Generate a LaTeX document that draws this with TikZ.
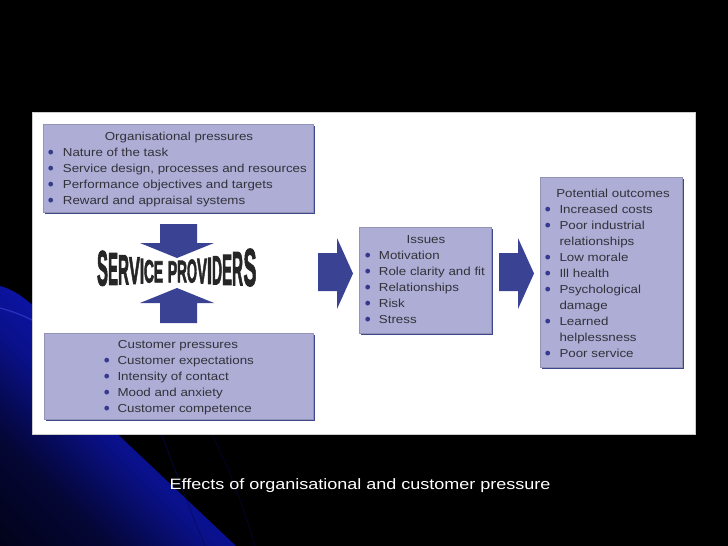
\documentclass[tikz,border=0pt]{standalone}
\usepackage{fontspec}
\setmainfont{Liberation Sans}
\newfontfamily\spfont{Liberation Sans}[BoldFeatures={FakeBold=2.5}]
\usepackage{graphicx}
\usetikzlibrary{shadows}
\definecolor{boxc}{RGB}{173,173,214}
\definecolor{shc}{RGB}{62,70,140}
\definecolor{arc}{RGB}{58,66,148}
\definecolor{txtc}{RGB}{50,50,58}
\definecolor{bulc}{RGB}{55,58,140}
\definecolor{wblue}{RGB}{15,25,210}
\definecolor{spc}{RGB}{38,38,38}
\pgfdeclareverticalshading{swoosh}{100bp}{color(0bp)=(black); color(30bp)=(black!75!wblue); color(45bp)=(wblue!65!black); color(62bp)=(wblue!90!black); color(100bp)=(wblue)}
\newcommand{\sx}[1]{\scalebox{1.15}[1]{#1}}
\newcommand{\bl}[5]{% name, bullet x, text x, baseline y, text
  \fill[bulc] (#2,#4-3.9) circle (2.4);
  \node[txt, anchor=base west] (#1) at (#3,#4) {\sx{#5}};}
\tikzset{
  txt/.style={inner sep=0pt, text=txtc, font=\fontsize{11.6}{13}\selectfont},
  box/.style={fill=boxc, draw=boxc!85!black, line width=0.3pt, inner sep=0pt, anchor=north west,
    drop shadow={shadow xshift=2pt, shadow yshift=-2pt, fill=shc, opacity=1}},
  blockarrow/.style={fill=arc, draw=none},
  spl/.style={inner sep=0pt, anchor=south, text=spc},
}
\begin{document}
\begin{tikzpicture}[x=1pt,y=-1pt]
\useasboundingbox (0,0) rectangle (728,546);
\fill[black] (0,0) rectangle (728,546);
% background swoosh
\shade[shading=swoosh, shading angle=-45]
  (0,286) .. controls (40,296) and (80,360) .. (108,425) -- (236,546) -- (0,546) -- cycle;
\draw[black!60!wblue, line width=0.8pt, opacity=0.7] (160,430) .. controls (175,470) and (190,510) .. (205,546);
\draw[black!60!wblue, line width=0.6pt, opacity=0.6] (210,430) .. controls (230,470) and (245,510) .. (255,546);
\draw[wblue!80!white, line width=1.2pt, opacity=0.6] (0,308) .. controls (12,311) and (24,316) .. (32,320);
% white panel
\node[fill=white, draw=gray!40, line width=0.4pt, inner sep=0pt, anchor=north west,
  minimum width=663, minimum height=322] (panel) at (32,112) {};
% boxes
\node[box, minimum width=270, minimum height=88] (org) at (43,124) {};
\node[box, minimum width=269, minimum height=86] (cus) at (44,333) {};
\node[box, minimum width=132, minimum height=106] (iss) at (359,227) {};
\node[box, minimum width=142, minimum height=190] (out) at (540,177) {};
% organisational pressures
\node[txt, anchor=base] (orgt) at (179,140) {\sx{Organisational pressures}};
\bl{o1}{50.7}{62.7}{156}{Nature of the task}
\bl{o2}{50.7}{62.7}{172}{Service design, processes and resources}
\bl{o3}{50.7}{62.7}{188}{Performance objectives and targets}
\bl{o4}{50.7}{62.7}{204}{Reward and appraisal systems}
% customer pressures
\node[txt, anchor=base] (cust) at (178,348) {\sx{Customer pressures}};
\bl{c1}{106.7}{117.3}{364}{Customer expectations}
\bl{c2}{106.7}{117.3}{380}{Intensity of contact}
\bl{c3}{106.7}{117.3}{396}{Mood and anxiety}
\bl{c4}{106.7}{117.3}{412}{Customer competence}
% issues
\node[txt, anchor=base] (isst) at (426,243) {\sx{Issues}};
\bl{i1}{367.7}{378.7}{259}{Motivation}
\bl{i2}{367.7}{378.7}{275}{Role clarity and fit}
\bl{i3}{367.7}{378.7}{291}{Relationships}
\bl{i4}{367.7}{378.7}{307}{Risk}
\bl{i5}{367.7}{378.7}{323}{Stress}
% outcomes
\node[txt, anchor=base] (outt) at (613,197) {\sx{Potential outcomes}};
\bl{p1}{547.7}{559.3}{213}{Increased costs}
\bl{p2}{547.7}{559.3}{229}{Poor industrial}
\node[txt, anchor=base west] (p2b) at (559.3,245) {\sx{relationships}};
\bl{p3}{547.7}{559.3}{261}{Low morale}
\bl{p4}{547.7}{559.3}{277}{Ill health}
\bl{p5}{547.7}{559.3}{293}{Psychological}
\node[txt, anchor=base west] (p5b) at (559.3,309) {\sx{damage}};
\bl{p6}{547.7}{559.3}{325}{Learned}
\node[txt, anchor=base west] (p6b) at (559.3,341) {\sx{helplessness}};
\bl{p7}{547.7}{559.3}{357}{Poor service}
% block arrows
\fill[blockarrow] (160,224) -- (197,224) -- (197,243) -- (214,243) -- (177,258) -- (140,243) -- (160,243) -- cycle;
\fill[blockarrow] (160,323) -- (197,323) -- (197,303) -- (214,303) -- (177,288) -- (140,303) -- (160,303) -- cycle;
\fill[blockarrow] (318,253) -- (337,253) -- (337,238) -- (353,273.5) -- (337,309) -- (337,291) -- (318,291) -- cycle;
\fill[blockarrow] (499,253) -- (518,253) -- (518,238) -- (534,273.5) -- (518,309) -- (518,291) -- (499,291) -- cycle;
% SERVICE PROVIDERS
\foreach \ch/\cx/\w/\h/\b [count=\k] in {
  S/102.5/11/34.5/286, E/113/10/31.5/285, R/123.5/11/29/284.5, V/134.5/11/26.5/284,
  I/142/4.5/24.5/283.5, C/149/10/22.5/283, E/158.5/9.5/21/282.5,
  P/172.5/9.5/21/282.5, R/182/10/21.5/282.5, O/192/10/23/283, V/202/10/24.5/283.5,
  I/209.5/5/26/284, D/217/10/28/284.5, E/227/10/30/285, R/237.5/11/33/285.5, S/250/13/37/286.5}
  \node[spl] (sp\k) at (\cx,\b) {\resizebox{\w pt}{\h pt}{\spfont\bfseries \ch}};
% caption
\node[inner sep=0pt, anchor=base, text=white, font=\fontsize{15}{17}\selectfont] (cap) at (360,489)
  {\scalebox{1.2}[1]{Effects of organisational and customer pressure}};
\end{tikzpicture}
\end{document}
